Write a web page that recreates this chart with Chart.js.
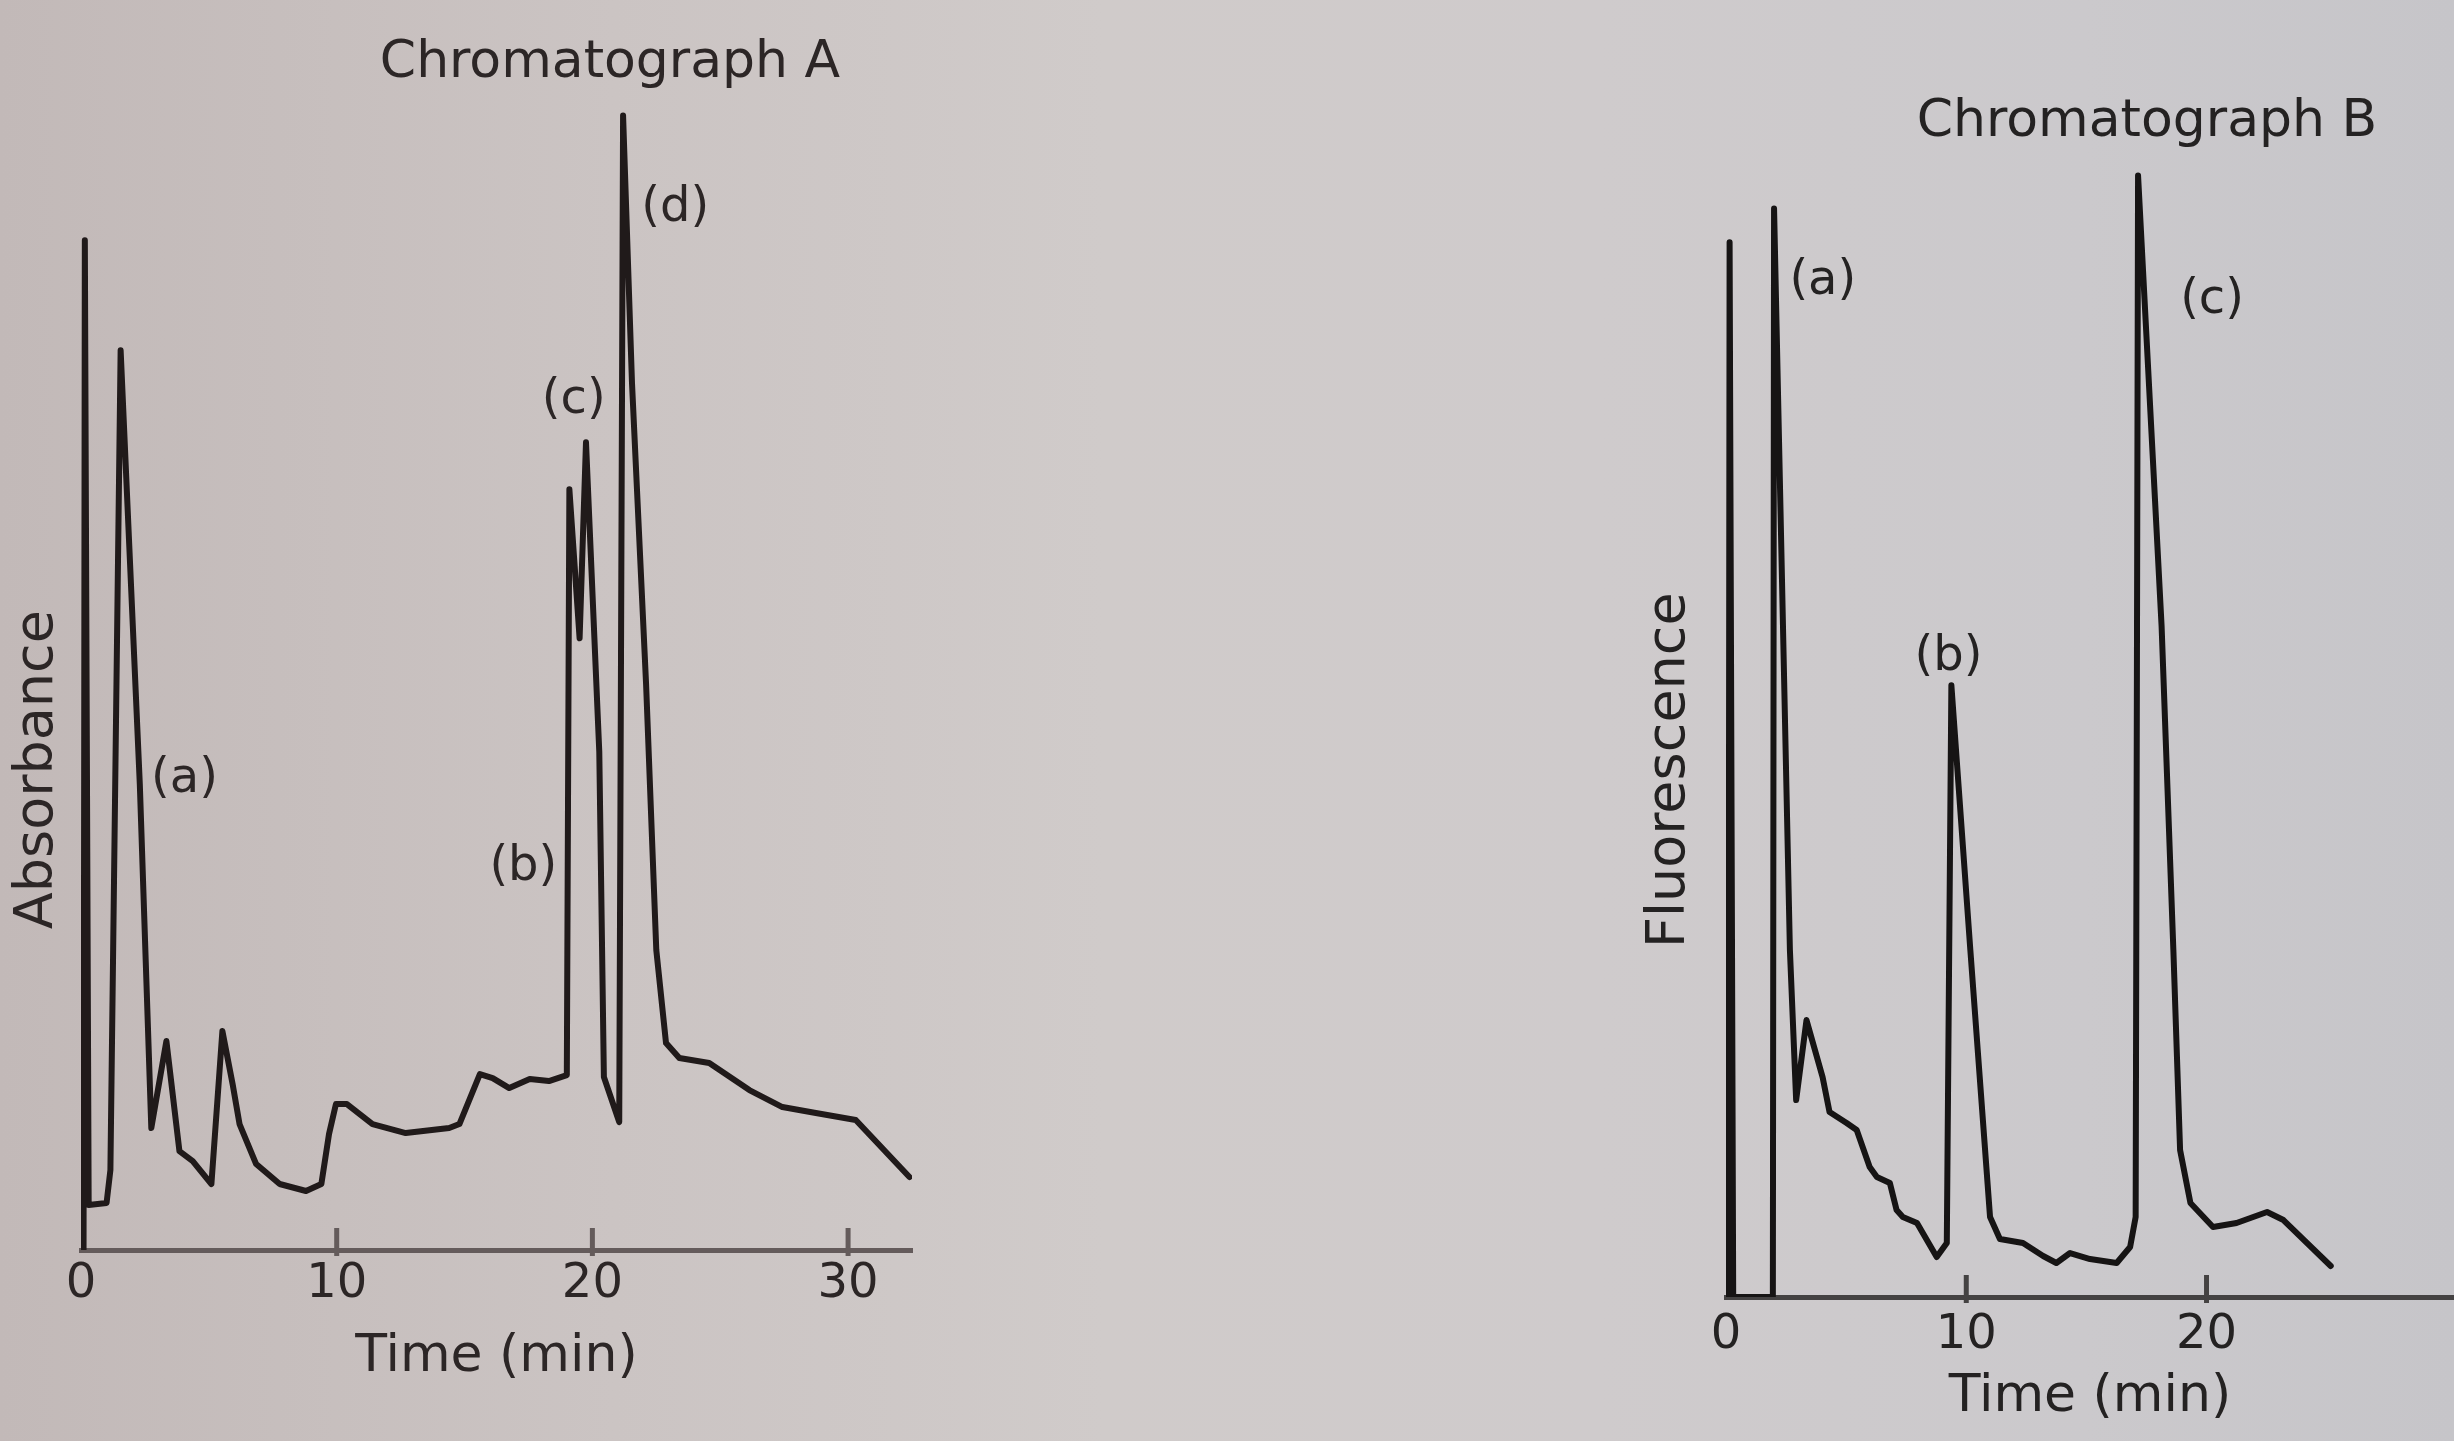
<!DOCTYPE html>
<html>
<head>
<meta charset="utf-8">
<script src="https://cdn.jsdelivr.net/npm/chart.js@4.4.1/dist/chart.umd.min.js"></script>
<style>
html, body { margin:0; padding:0; width:2454px; height:1441px; overflow:hidden; }
body { position:relative; background: linear-gradient(90deg, #c2b9b8 0%, #cbc4c3 25%, #d0cbca 45%, #cfcbcc 65%, #cbc9cc 85%, #c6c5c9 100%); }
#wa { position:absolute; left:0; top:0; width:1220px; height:1441px; }
#wb { position:absolute; left:1630px; top:0; width:1034px; height:1441px; }
</style>
</head>
<body>
<div id="wa"><canvas id="ca" width="1220" height="1441"></canvas></div>
<div id="wb"><canvas id="cb" width="1034" height="1441"></canvas></div>
<script>
// ---------- Chromatograph A (absorbance) ----------
const titleA = 'Chromatograph A';
const yTitleA = 'Absorbance';
const timeA = [0.1, 0.15, 0.3, 1.0, 1.15, 1.55, 2.3, 2.75, 3.34, 3.85, 4.37, 5.1, 5.53, 5.93, 6.2, 6.85, 7.77, 8.8, 9.4, 9.7, 9.97, 10.4, 11.4, 12.7, 14.4, 14.8, 15.6, 16.1, 16.75, 17.55, 18.3, 19.0, 19.1, 19.5, 19.75, 20.27, 20.45, 21.05, 21.2, 21.55, 22.1, 22.5, 22.88, 23.4, 24.57, 26.14, 27.43, 28.74, 30.3, 32.4];
const signalA = [0, 101, 4.5, 4.7, 8, 90, 46.6, 12.2, 20.9, 9.9, 8.9, 6.6, 21.9, 16.6, 12.6, 8.6, 6.6, 5.9, 6.6, 11.6, 14.6, 14.6, 12.6, 11.7, 12.2, 12.6, 17.6, 17.2, 16.2, 17.1, 16.9, 17.5, 76.1, 61.2, 80.8, 49.8, 17.3, 12.8, 113.5, 86.7, 56.6, 30, 20.7, 19.2, 18.7, 16, 14.3, 13.7, 13, 7.3];
const ticksA = [0, 10, 20, 30];
const peakLabelsA = ['(a)', '(b)', '(c)', '(d)'];
const peakLabelTimesA = [4.05, 17.3, 19.27, 23.24];
const peakLabelLevelsA = [47.1, 38.3, 85.0, 104.2];

// ---------- Chromatograph B (fluorescence) ----------
const titleB = 'Chromatograph B';
const yTitleB = 'Fluorescence';
const timeB = [0.1, 0.15, 0.3, 1.95, 2.0, 2.66, 2.92, 3.35, 4.02, 4.31, 5.02, 5.44, 5.98, 6.28, 6.82, 7.1, 7.36, 7.95, 8.77, 9.19, 9.38, 10.17, 10.99, 11.4, 12.36, 13.2, 13.75, 14.32, 15.15, 16.26, 16.82, 17.05, 17.15, 18.13, 18.62, 18.9, 19.33, 20.27, 21.25, 22.52, 23.2, 25.17];
const signalB = [0, 105.5, 0, 0, 108.9, 34.7, 19.7, 27.7, 22.0, 18.5, 17.4, 16.7, 13.0, 12.0, 11.4, 8.7, 8.0, 7.4, 4.0, 5.4, 61.2, 34.7, 8.0, 5.8, 5.4, 4.1, 3.4, 4.4, 3.8, 3.4, 5.0, 8.0, 112.2, 67.1, 34.7, 14.7, 9.4, 7.0, 7.4, 8.5, 7.7, 3.1];
const ticksB = [0, 10, 20];
const peakLabelsB = ['(a)', '(b)', '(c)'];
const peakLabelTimesB = [4.03, 9.26, 20.23];
const peakLabelLevelsB = [101.6, 64.0, 99.7];

const xTitle = 'Time (min)';
const FONT = '"DejaVu Sans", "Liberation Sans", sans-serif';

const annotPlugin = {
  id: 'annot',
  afterDatasetsDraw(chart, args, o) {
    const { ctx } = chart;
    const x = chart.scales.x, y = chart.scales.y;
    ctx.save();
    const y0 = y.getPixelForValue(0);
    ctx.strokeStyle = o.tickColor;
    ctx.lineWidth = 5;
    o.ticks.filter(v => v > 0).forEach(v => {
      const px = x.getPixelForValue(v);
      ctx.beginPath();
      ctx.moveTo(px, y0 - 22);
      ctx.lineTo(px, y0 + 6);
      ctx.stroke();
    });
    ctx.font = '48px ' + FONT;
    ctx.fillStyle = o.textColor;
    ctx.textAlign = 'center';
    ctx.textBaseline = 'middle';
    o.labels.forEach((t, i) => {
      ctx.fillText(t, x.getPixelForValue(o.times[i]), y.getPixelForValue(o.levels[i]));
    });
    ctx.restore();
  }
};

function makeChart(id, cfg) {
  const pts = cfg.time.map((t, i) => ({ x: t, y: cfg.signal[i] }));
  return new Chart(document.getElementById(id), {
    type: 'line',
    data: { datasets: [{ data: pts, borderColor: cfg.lineColor, borderWidth: 6, pointRadius: 0, tension: 0, fill: false, borderJoinStyle: 'round', borderCapStyle: 'round' }] },
    plugins: [annotPlugin],
    options: {
      responsive: false,
      animation: false,
      events: [],
      layout: { padding: { left: 0, right: 0, top: 0, bottom: cfg.padBottom } },
      plugins: {
        legend: { display: false },
        tooltip: { enabled: false },
        title: { display: true, text: cfg.title, color: cfg.textColor, font: { family: FONT, size: 52, weight: 'normal' }, padding: { top: cfg.titleTop, bottom: cfg.titleBottom } },
        annot: { ticks: cfg.ticks, labels: cfg.labels, times: cfg.labelTimes, levels: cfg.labelLevels, textColor: cfg.textColor, tickColor: cfg.axisColor }
      },
      scales: {
        x: {
          type: 'linear', min: 0, max: cfg.xMax,
          afterBuildTicks: s => { s.ticks = cfg.ticks.map(v => ({ value: v })); },
          afterFit: s => { s.height = cfg.xHeight; },
          grid: { display: false, drawTicks: false },
          border: { display: true, color: cfg.axisColor, width: 5 },
          ticks: { color: cfg.textColor, font: { family: FONT, size: 48 }, padding: cfg.tickPad, maxRotation: 0, autoSkip: false },
          title: { display: true, text: xTitle, color: cfg.textColor, font: { family: FONT, size: 52 }, padding: { top: 0, bottom: 0 } }
        },
        y: {
          type: 'linear', position: 'left', min: 0, max: cfg.yMax,
          afterFit: s => { s.width = cfg.yWidth; },
          grid: { display: false, drawTicks: false },
          border: { display: false },
          ticks: { display: false },
          title: { display: true, text: cfg.yTitle + ' '.repeat(cfg.yTitleShift), color: cfg.textColor, font: { family: FONT, size: 54 }, padding: { top: cfg.yTitlePad, bottom: 0 } }
        },
        pad: {
          type: 'linear', position: 'right', display: true,
          afterFit: s => { s.width = cfg.rightWidth; },
          grid: { display: false, drawTicks: false },
          border: { display: false },
          ticks: { display: false }
        }
      }
    }
  });
}

makeChart('ca', {
  time: timeA, signal: signalA, ticks: ticksA, title: titleA, yTitle: yTitleA,
  labels: peakLabelsA, labelTimes: peakLabelTimesA, labelLevels: peakLabelLevelsA,
  lineColor: '#201a1a', textColor: '#2c2626', axisColor: '#645b5b',
  xMax: 32.5, yMax: 115, xHeight: 139, yWidth: 81, rightWidth: 308,
  padBottom: 52, titleTop: 32, titleBottom: 6, tickPad: 6, yTitlePad: 6, yTitleShift: 11
});

makeChart('cb', {
  time: timeB, signal: signalB, ticks: ticksB, title: titleB, yTitle: yTitleB,
  labels: peakLabelsB, labelTimes: peakLabelTimesB, labelLevels: peakLabelLevelsB,
  lineColor: '#161414', textColor: '#242222', axisColor: '#444242',
  xMax: 30.3, yMax: 114, xHeight: 132, yWidth: 96, rightWidth: 210,
  padBottom: 12, titleTop: 91, titleBottom: 4, tickPad: 10, yTitlePad: 8, yTitleShift: 5
});
</script>
</body>
</html>
